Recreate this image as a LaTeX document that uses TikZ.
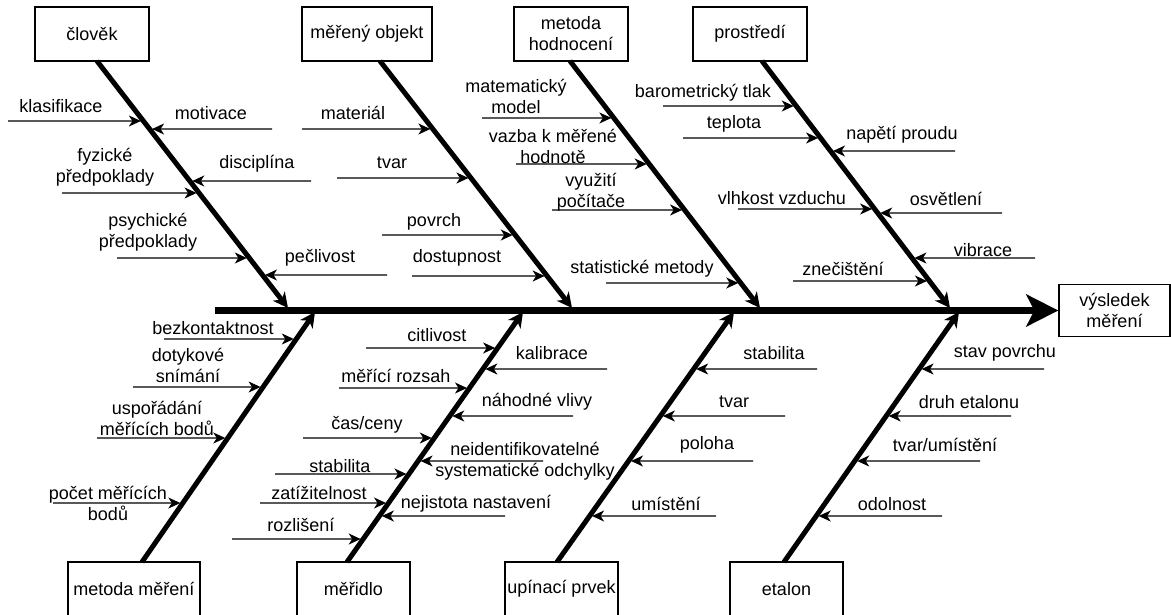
\documentclass[tikz,border=0pt]{standalone}
\usepackage{fontspec}
\setmainfont{Liberation Sans}
\usetikzlibrary{arrows.meta,calc}
\newcommand\topsub[4]{\coordinate (#1) at (#2,#3); \draw[subarrow] (#1) -- ($(#4s)!{(#3-61)/247}!(#4e)$);}
\newcommand\botsub[4]{\coordinate (#1) at (#2,#3); \draw[subarrow] (#1) -- ($(#4s)!{(562-#3)/250}!(#4e)$);}
\tikzset{
  box/.style={draw, line width=1.3pt, inner sep=0pt, align=center, font=\fontsize{18}{21}\selectfont},
  lbl/.style={inner sep=0pt, align=center, font=\fontsize{18}{21}\selectfont},
  subarrow/.style={line width=1.3pt, -{Stealth[length=12pt,width=11pt,inset=3.5pt]}, shorten >=2.5pt},
  bone/.style={line width=5pt, -{Stealth[length=15pt,width=15pt,inset=4.5pt]}},
  spine/.style={line width=7pt, -{Stealth[length=32pt,width=32pt,inset=8pt]}}
}
\begin{document}
\begin{tikzpicture}[x=1pt,y=-1pt]
\useasboundingbox (0,0) rectangle (1171,614);
\clip (0,0) rectangle (1171,614);
% boxes
\node[box, minimum width=114pt, minimum height=54pt] (clovek) at (92,34) {člověk};
\node[box, minimum width=130pt, minimum height=54pt] (objekt) at (367,34) {měřený objekt};
\node[box, minimum width=114pt, minimum height=54pt] (hodnoceni) at (571,34) {metoda\\hodnocení};
\node[box, minimum width=114pt, minimum height=54pt] (prostredi) at (750,34) {prostředí};
\node[box, minimum width=132pt, minimum height=54pt] (metoda) at (134,589) {metoda měření};
\node[box, minimum width=113pt, minimum height=54pt] (meridlo) at (353.5,589) {měřidlo};
\node[box, minimum width=113pt, minimum height=54pt] (upinaci) at (561.5,589) {upínací prvek};
\node[box, minimum width=113pt, minimum height=54pt] (etalon) at (786.5,589) {etalon};
\node[box, minimum width=111pt, minimum height=52pt] (vysledek) at (1114.5,310.5) {výsledek\\měření};
% spine
\coordinate (S0) at (215,310.5);
\draw[spine] (S0) -- (vysledek.west);
% bones
\coordinate (As) at (97,61);  \coordinate (Ae) at (288,308);
\coordinate (Bs) at (380,61); \coordinate (Be) at (572,308);
\coordinate (Cs) at (570,61); \coordinate (Ce) at (760,308);
\coordinate (Ds) at (762,61); \coordinate (De) at (950,308);
\coordinate (Es) at (142,562); \coordinate (Ee) at (315,312);
\coordinate (Fs) at (347,562); \coordinate (Fe) at (523,312);
\coordinate (Gs) at (557,562); \coordinate (Ge) at (734,312);
\coordinate (Hs) at (784,562); \coordinate (He) at (959,312);
\foreach \b in {A,B,C,D,E,F,G,H} {\draw[bone] (\b s) -- (\b e);}
% sub arrows
\topsub{klaA}{8}{121}{A}
\topsub{motA}{272}{129}{A}
\topsub{fyzA}{62}{193}{A}
\topsub{disA}{311}{181}{A}
\topsub{psyA}{117}{258}{A}
\topsub{pecA}{387}{275}{A}
\topsub{matB}{302}{129}{B}
\topsub{tvaB}{337}{178}{B}
\topsub{povB}{382}{235}{B}
\topsub{dosB}{412}{276}{B}
\topsub{mmC}{482}{118}{C}
\topsub{vazC}{516}{164}{C}
\topsub{vyuC}{552}{210}{C}
\topsub{staC}{606}{283}{C}
\topsub{barD}{663}{106}{D}
\topsub{tepD}{683}{138}{D}
\topsub{napD}{955}{151}{D}
\topsub{vlhD}{738}{209}{D}
\topsub{osvD}{1002}{213}{D}
\topsub{vibD}{1035}{258}{D}
\topsub{zneD}{793}{281}{D}
\botsub{bezE}{164}{339}{E}
\botsub{dotE}{133}{387}{E}
\botsub{uspE}{97}{438}{E}
\botsub{pocE}{53}{503}{E}
\botsub{citF}{366}{348}{F}
\botsub{rozF}{339}{388}{F}
\botsub{casF}{303}{438}{F}
\botsub{stbF}{275}{474}{F}
\botsub{zatF}{260}{503}{F}
\botsub{rzlF}{232}{539}{F}
\botsub{kalF}{607}{369}{F}
\botsub{nahF}{573}{416}{F}
\botsub{neiF}{543}{461}{F}
\botsub{nejF}{505}{516}{F}
\botsub{stbG}{817}{369}{G}
\botsub{tvaG}{785}{416}{G}
\botsub{polG}{753}{461}{G}
\botsub{umiG}{716}{516}{G}
\botsub{stpH}{1044}{369}{H}
\botsub{druH}{1011}{416}{H}
\botsub{tvuH}{980}{461}{H}
\botsub{odoH}{942}{516}{H}
% labels
\node[lbl] (l1) at (61,106) {klasifikace};
\node[lbl] (l2) at (211,113) {motivace};
\node[lbl] (l3) at (105,167) {fyzické\\předpoklady};
\node[lbl] (l4) at (257,164) {disciplína};
\node[lbl] (l5) at (148,232) {psychické\\předpoklady};
\node[lbl] (l6) at (320,258) {pečlivost};
\node[lbl] (l7) at (353,113) {materiál};
\node[lbl] (l8) at (392,163) {tvar};
\node[lbl] (l9) at (434,222) {povrch};
\node[lbl] (l10) at (457,258) {dostupnost};
\node[lbl] (l11) at (516,96) {matematický\\model};
\node[lbl] (l12) at (553,146) {vazba k měřené\\hodnotě};
\node[lbl] (l13) at (591,192) {využití\\počítače};
\node[lbl] (l14) at (642,269) {statistické metody};
\node[lbl] (l15) at (703,93) {barometrický tlak};
\node[lbl] (l16) at (734,124) {teplota};
\node[lbl] (l17) at (902,135) {napětí proudu};
\node[lbl] (l18) at (782,198) {vlhkost vzduchu};
\node[lbl] (l19) at (946,199) {osvětlení};
\node[lbl] (l20) at (983,250) {vibrace};
\node[lbl] (l21) at (843,269) {znečištění};
\node[lbl] (l22) at (213,328) {bezkontaktnost};
\node[lbl] (l23) at (188,365) {dotykové\\snímání};
\node[lbl] (l24) at (157,418) {uspořádání\\měřících bodů};
\node[lbl] (l25) at (108,503) {počet měřících\\bodů};
\node[lbl] (l26) at (437,335) {citlivost};
\node[lbl] (l27) at (396,376) {měřící rozsah};
\node[lbl] (l28) at (367,425) {čas/ceny};
\node[lbl] (l29) at (340,466) {stabilita};
\node[lbl] (l30) at (319,493) {zatížitelnost};
\node[lbl] (l31) at (301,525) {rozlišení};
\node[lbl] (l32) at (552,353) {kalibrace};
\node[lbl] (l33) at (537,402) {náhodné vlivy};
\node[lbl] (l34) at (525,461) {neidentifikovatelné\\systematické odchylky};
\node[lbl] (l35) at (476,504) {nejistota nastavení};
\node[lbl] (l36) at (774,353) {stabilita};
\node[lbl] (l37) at (734,402) {tvar};
\node[lbl] (l38) at (707,445) {poloha};
\node[lbl] (l39) at (666,504) {umístění};
\node[lbl] (l40) at (1005,353) {stav povrchu};
\node[lbl] (l41) at (969,402) {druh etalonu};
\node[lbl] (l42) at (945,445) {tvar/umístění};
\node[lbl] (l43) at (892,504) {odolnost};
\end{tikzpicture}
\end{document}
